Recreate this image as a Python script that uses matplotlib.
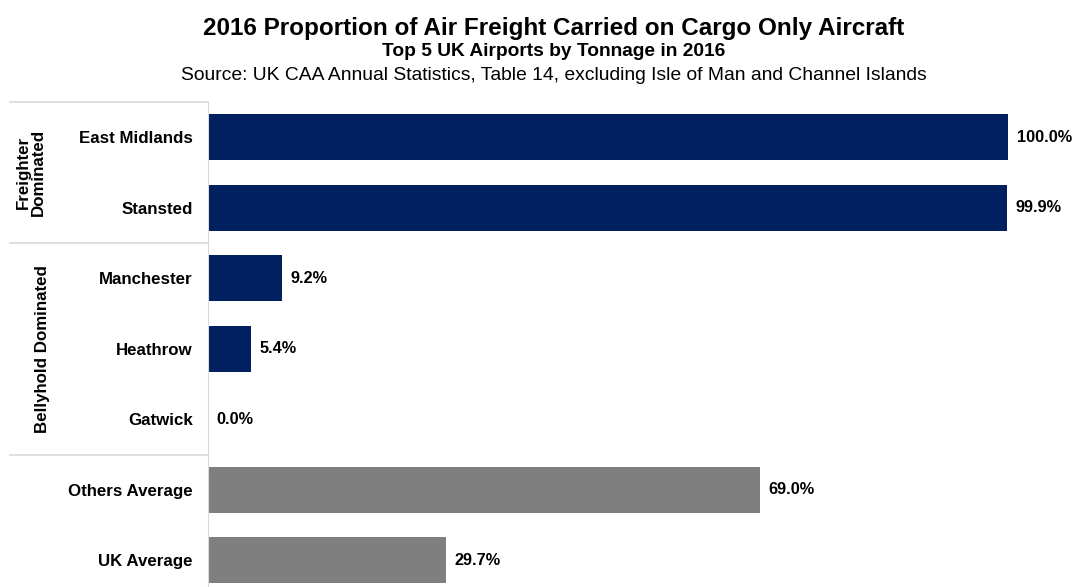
import matplotlib.pyplot as plt
import matplotlib.transforms as mtransforms

plt.rcParams['font.family'] = ['Liberation Sans', 'DejaVu Sans']

airports = ['East Midlands', 'Stansted', 'Manchester', 'Heathrow', 'Gatwick',
            'Others Average', 'UK Average']
share_pct = [100.0, 99.9, 9.2, 5.4, 0.0, 69.0, 29.7]
bar_colors = ['#002060'] * 5 + ['#7f7f7f'] * 2

groups = ['Freighter\nDominated', 'Bellyhold Dominated']
group_centers = [0.5, 3.0]
group_x = [-0.222, -0.207]
separators = [-0.5, 1.5, 4.5]

fig = plt.figure(figsize=(10.72, 5.87), dpi=100)
ax = fig.add_axes([208 / 1072, 1 - 595.5 / 587, 800 / 1072, 493.5 / 587])

ypos = list(range(len(airports)))
ax.barh(ypos, share_pct, height=0.65, color=bar_colors)
ax.set_xlim(0, 100)
ax.set_ylim(len(airports) - 0.5, -0.5)

ax.set_yticks(ypos)
ax.set_yticklabels(airports, fontsize=12.2, fontweight='bold')
ax.tick_params(axis='y', length=0, pad=11)
ax.set_xticks([])
for s in ['top', 'right', 'bottom']:
    ax.spines[s].set_visible(False)
ax.spines['left'].set_color('#d9d9d9')

for y, v in zip(ypos, share_pct):
    ax.text(v + 1.1, y, f'{v:.1f}%', va='center', ha='left',
            fontsize=11.7, fontweight='bold', clip_on=False)

trans = mtransforms.blended_transform_factory(ax.transAxes, ax.transData)
for y in separators:
    ax.plot([-0.2475, 0], [y, y], color='#d9d9d9', lw=1.2,
            transform=trans, clip_on=False)
for name, yc, xg in zip(groups, group_centers, group_x):
    ax.text(xg, yc, name, rotation=90, ha='center', va='center',
            fontsize=12.2, fontweight='bold', transform=trans,
            linespacing=1.0)

tx = 553.5 / 1072
fig.text(tx, 1 - 28 / 587, '2016 Proportion of Air Freight Carried on Cargo Only Aircraft',
         ha='center', va='center', fontsize=17.5, fontweight='bold')
fig.text(tx, 1 - 51 / 587, 'Top 5 UK Airports by Tonnage in 2016',
         ha='center', va='center', fontsize=13.8, fontweight='bold')
fig.text(tx, 1 - 75 / 587,
         'Source: UK CAA Annual Statistics, Table 14, excluding Isle of Man and Channel Islands',
         ha='center', va='center', fontsize=13.9)

fig.savefig('out.png', dpi=100)
